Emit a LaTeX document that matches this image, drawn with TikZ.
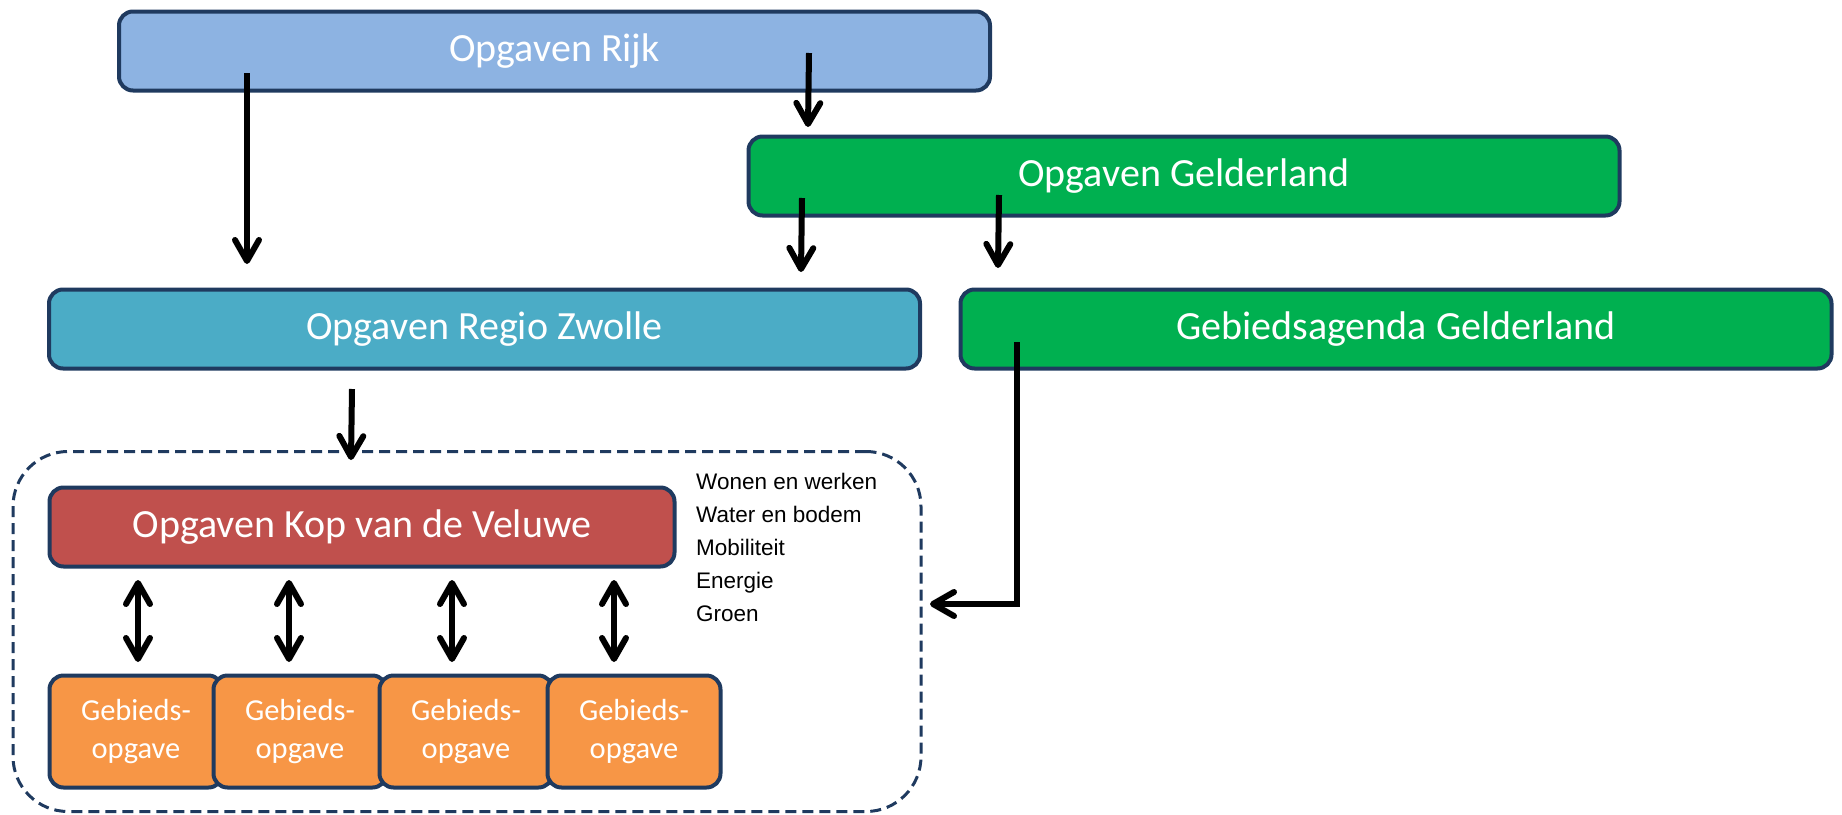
\documentclass[tikz,border=0pt]{standalone}
\usepackage{fontspec}
\setmainfont{Carlito}
\newfontfamily\arialf{Liberation Sans}
\usetikzlibrary{arrows.meta}
\definecolor{navy}{HTML}{1F3A5F}
\definecolor{rijkc}{HTML}{8DB3E2}
\definecolor{groenc}{HTML}{00B050}
\definecolor{regioc}{HTML}{4BACC6}
\definecolor{kopc}{HTML}{C0504D}
\definecolor{gebc}{HTML}{F79646}
\tikzset{
  bx/.style={draw=navy, line width=4pt, rounded corners=14pt, text=white, inner sep=0pt,
    font=\fontsize{40}{48}\selectfont},
  wide/.style={bx, minimum width=871pt, minimum height=79pt},
  gb/.style={bx, minimum width=173pt, minimum height=112pt, fill=gebc, align=center,
    font=\fontsize{30.5}{38}\selectfont},
  arr/.style={line width=6pt, -{Straight Barb[length=21pt,width=24pt,round]}},
  darr/.style={line width=6pt, {Straight Barb[length=21pt,width=24pt,round]}-{Straight Barb[length=21pt,width=24pt,round]}},
  lst/.style={anchor=base west, inner sep=0pt, font=\arialf\fontsize{22.5}{27}\selectfont}
}
\begin{document}
\begin{tikzpicture}[x=1pt,y=-1pt]
\useasboundingbox (0,0) rectangle (1842,814);
% frame
\node[draw=navy, line width=3pt, dash pattern=on 11pt off 6pt, rounded corners=55pt,
  minimum width=908pt, minimum height=360pt, inner sep=0pt] (frame) at (467,631.5) {};
% boxes
\node[wide, fill=rijkc] (rijk) at (554.5,51) {Opgaven Rijk};
\node[wide, fill=groenc] (geld) at (1184,176) {Opgaven Gelderland};
\node[wide, fill=regioc] (regio) at (484.5,329) {Opgaven Regio Zwolle};
\node[wide, fill=groenc] (agenda) at (1396,329) {Gebiedsagenda Gelderland};
\node[bx, fill=kopc, minimum width=625pt, minimum height=79pt] (kop) at (362,527) {Opgaven Kop van de Veluwe};
\node[gb] (g1) at (136,731.5) {Gebieds-\\opgave};
\node[gb] (g2) at (300,731.5) {Gebieds-\\opgave};
\node[gb] (g3) at (466,731.5) {Gebieds-\\opgave};
\node[gb] (g4) at (634,731.5) {Gebieds-\\opgave};
% list
\node[lst] (t1) at (696,489) {Wonen en werken};
\node[lst] (t2) at (696,522) {Water en bodem};
\node[lst] (t3) at (696,555) {Mobiliteit};
\node[lst] (t4) at (696,588) {Energie};
\node[lst] (t5) at (696,621) {Groen};
% arrow coordinates
\coordinate (a1s) at (247,73);   \coordinate (a1e) at (247,264);
\coordinate (a2s) at (809,53);   \coordinate (a2e) at (808,127);
\coordinate (a3s) at (802,198);  \coordinate (a3e) at (801,272);
\coordinate (a4s) at (999,195);  \coordinate (a4e) at (998,268);
\coordinate (a5s) at (352,389);  \coordinate (a5e) at (351,460);
\coordinate (a6s) at (1017,342); \coordinate (a6c) at (1017,604); \coordinate (a6e) at (930,604);
\foreach \i/\x in {1/138,2/289,3/452,4/614}{
  \coordinate (d\i s) at (\x,580); \coordinate (d\i e) at (\x,662);
}
\draw[arr] (a1s) -- (a1e);
\draw[arr] (a2s) -- (a2e);
\draw[arr] (a3s) -- (a3e);
\draw[arr] (a4s) -- (a4e);
\draw[arr] (a5s) -- (a5e);
\draw[arr, line join=miter] (a6s) -- (a6c) -- (a6e);
\foreach \i in {1,...,4}{ \draw[darr] (d\i s) -- (d\i e); }
\end{tikzpicture}
\end{document}
